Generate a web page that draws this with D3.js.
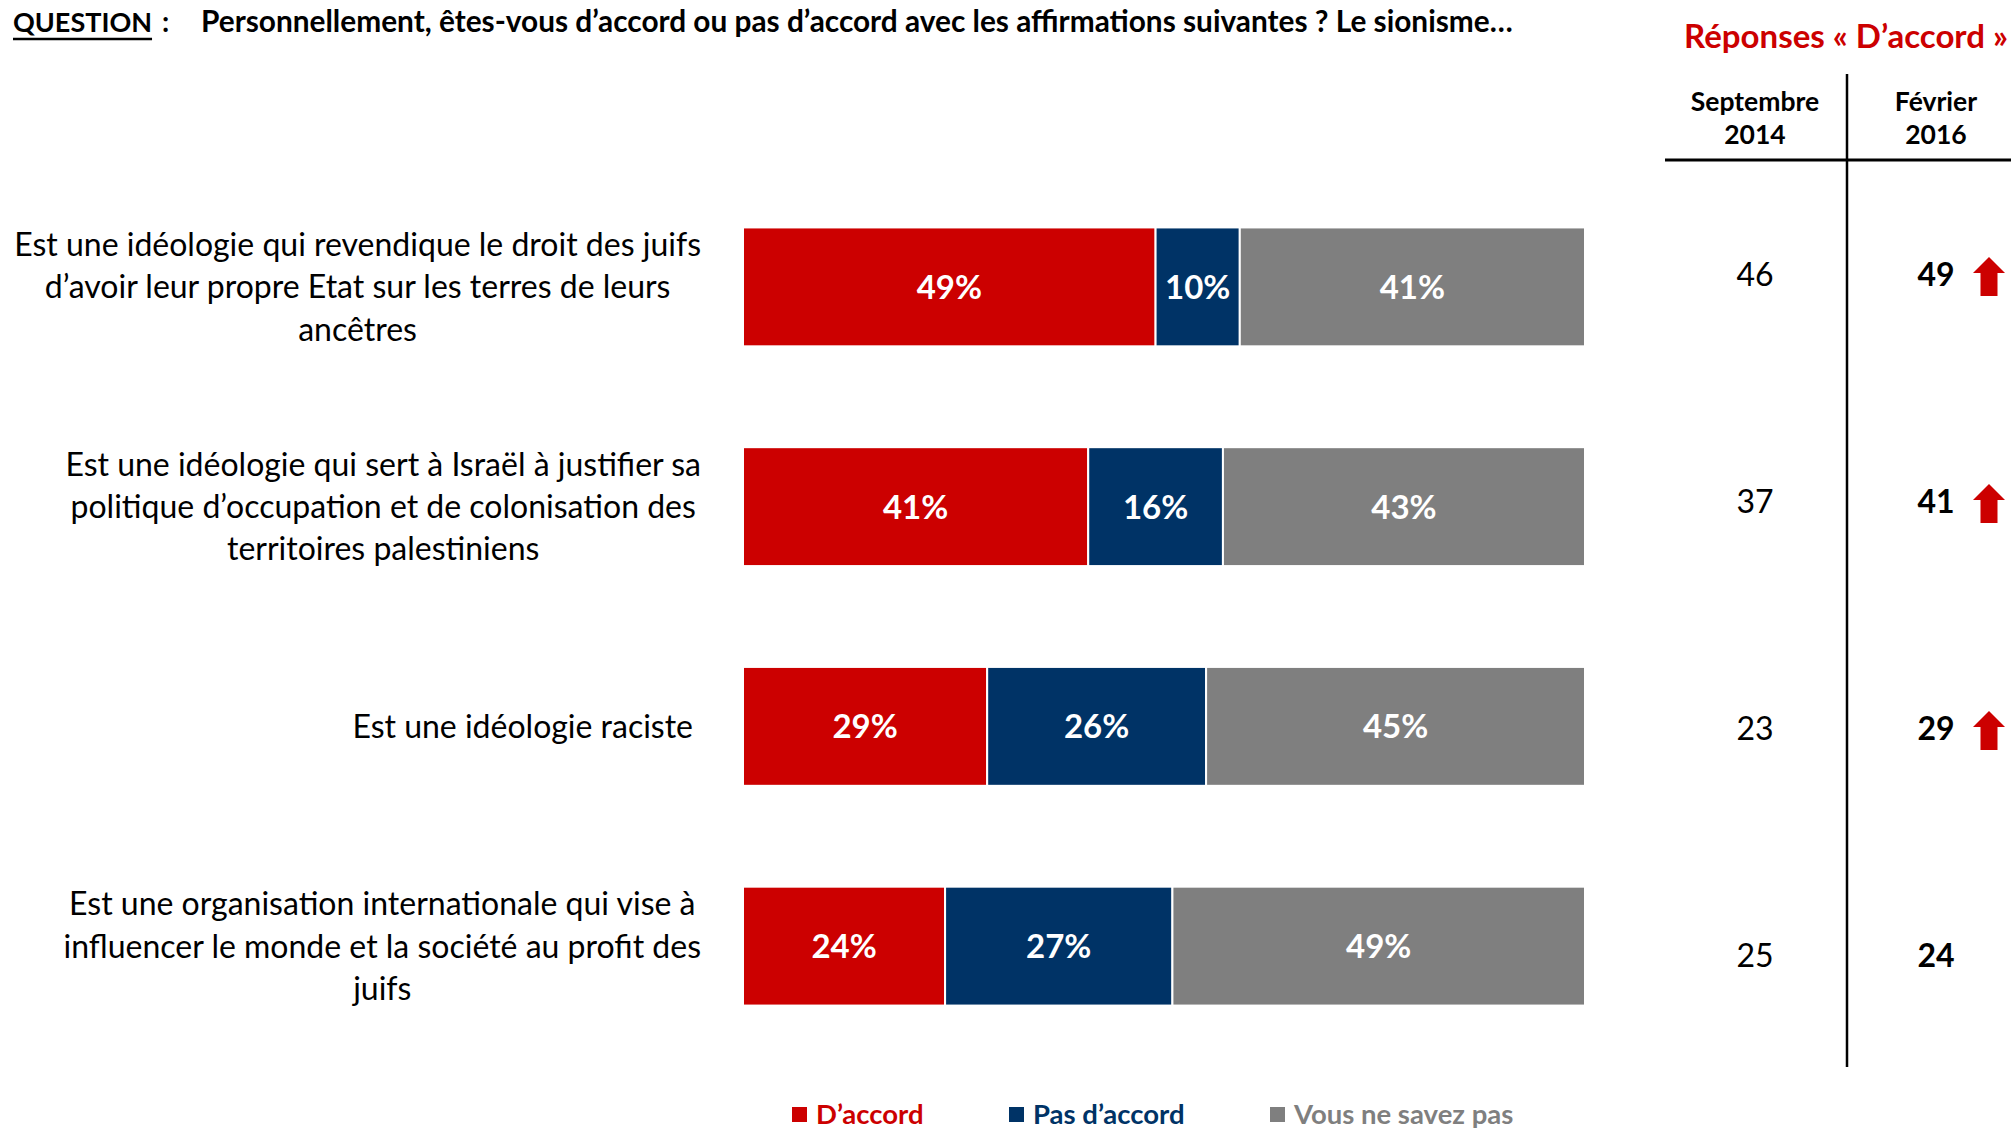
<!DOCTYPE html>
<html lang="fr">
<head>
<meta charset="utf-8">
<script src="https://cdn.jsdelivr.net/npm/d3@7"></script>
<style>
  html, body { margin: 0; padding: 0; background: #fff; }
  svg { display: block; }
  text { font-family: Lato, "Open Sans", "Noto Sans", sans-serif; }
</style>
</head>
<body>
<svg id="chart" width="2011" height="1129"></svg>
<script>
// Survey statements (line breaks as laid out in the chart)
const statements = [
  "Est une idéologie qui revendique le droit des juifs\nd’avoir leur propre Etat sur les terres de leurs\nancêtres",
  "Est une idéologie qui sert à Israël à justifier sa\npolitique d’occupation et de colonisation des\nterritoires palestiniens",
  "Est une idéologie raciste",
  "Est une organisation internationale qui vise à\ninfluencer le monde et la société au profit des\njuifs"
];

// Answer shares, February 2016 (%)
const agree    = [49, 41, 29, 24];
const disagree = [10, 16, 26, 27];
const dontKnow = [41, 43, 45, 49];

// "D'accord" answers across waves
const waves = ["Septembre\n2014", "Février\n2016"];
const agreeSep2014 = [46, 37, 23, 25];
const agreeFeb2016 = [49, 41, 29, 24];
// Significant rise since the previous wave
const risen = [true, true, true, false];

const seriesNames = ["D’accord", "Pas d’accord", "Vous ne savez pas"];
const seriesColors = ["#CC0000", "#003366", "#7F7F7F"];

const svg = d3.select("#chart");

// ---------- Header ----------
const title = svg.append("g");
const q = title.append("text")
  .attr("x", 13).attr("y", 32)
  .attr("font-weight", 700).attr("font-size", 27).attr("fill", "#000")
  .text("QUESTION");
const qBox = q.node().getBBox();
title.append("line")
  .attr("x1", qBox.x).attr("x2", qBox.x + qBox.width)
  .attr("y1", 39).attr("y2", 39)
  .attr("stroke", "#000").attr("stroke-width", 2.4);
title.append("text")
  .attr("x", 162).attr("y", 32)
  .attr("font-weight", 700).attr("font-size", 28)
  .text(":");
title.append("text")
  .attr("x", 201).attr("y", 32)
  .attr("font-weight", 700).attr("font-size", 29.8)
  .text("Personnellement, êtes-vous d’accord ou pas d’accord avec les affirmations suivantes ? Le sionisme…");

// ---------- Stacked bars ----------
const rows = statements.map((s, i) => ({
  label: s, agree: agree[i], disagree: disagree[i], dontKnow: dontKnow[i]
}));
const keys = ["agree", "disagree", "dontKnow"];

const x = d3.scaleLinear().domain([0, 100]).range([743, 1585]);
const y = d3.scaleBand()
  .domain(d3.range(rows.length))
  .range([177, 1056])
  .paddingInner(0.459)
  .paddingOuter(0.2295);

const stacked = d3.stack().keys(keys)(rows);
const color = d3.scaleOrdinal().domain(keys).range(seriesColors);

const layers = svg.append("g").selectAll("g")
  .data(stacked).join("g")
  .attr("fill", d => color(d.key));

layers.selectAll("rect")
  .data(d => d.map((v, i) => ({ v, i })))
  .join("rect")
  .attr("x", d => x(d.v[0]))
  .attr("y", d => y(d.i))
  .attr("width", d => x(d.v[1]) - x(d.v[0]))
  .attr("height", y.bandwidth())
  .attr("stroke", "#fff")
  .attr("stroke-width", 2);

layers.selectAll("text")
  .data(d => d.map((v, i) => ({ v, i })))
  .join("text")
  .attr("x", d => (x(d.v[0]) + x(d.v[1])) / 2)
  .attr("y", d => y(d.i) + y.bandwidth() / 2)
  .attr("dy", "0.36em")
  .attr("text-anchor", "middle")
  .attr("font-weight", 700)
  .attr("font-size", 33)
  .attr("fill", "#fff")
  .text(d => `${d.v[1] - d.v[0]}%`);

// ---------- Statement labels (block right-aligned, lines centred) ----------
const labelRight = 701;
const lineH = 42.3;
const labels = svg.append("g");
rows.forEach((r, i) => {
  const lines = r.label.split("\n");
  const g = labels.append("g");
  const cy = y(i) + y.bandwidth() / 2;
  const ts = lines.map((ln, k) => g.append("text")
    .attr("y", cy + (k - (lines.length - 1) / 2) * lineH)
    .attr("dy", "0.36em")
    .attr("text-anchor", "middle")
    .attr("font-size", 32)
    .attr("fill", "#000")
    .text(ln));
  const maxW = d3.max(ts, t => t.node().getComputedTextLength());
  const right = lines.length === 1 ? labelRight - 8 : labelRight;
  ts.forEach(t => t.attr("x", right - maxW / 2));
});

// ---------- Trend table ----------
svg.append("text")
  .attr("x", 2008).attr("y", 36).attr("dy", "0.36em")
  .attr("text-anchor", "end")
  .attr("font-weight", 700).attr("font-size", 33)
  .attr("fill", "#CC0000")
  .text("Réponses « D’accord »");

const col = d3.scalePoint().domain(waves).range([1755, 1936]);
const rowY = d3.scalePoint().domain(d3.range(rows.length)).range([274.5, 955.5]);

waves.forEach(w => {
  w.split("\n").forEach((ln, k) => {
    svg.append("text")
      .attr("x", col(w)).attr("y", 101 + k * 33).attr("dy", "0.36em")
      .attr("text-anchor", "middle")
      .attr("font-weight", 700).attr("font-size", 26.5)
      .text(ln);
  });
});

svg.append("line")
  .attr("x1", 1665).attr("x2", 2011).attr("y1", 160).attr("y2", 160)
  .attr("stroke", "#000").attr("stroke-width", 3);
svg.append("line")
  .attr("x1", 1847).attr("x2", 1847).attr("y1", 74).attr("y2", 1067)
  .attr("stroke", "#000").attr("stroke-width", 2.5);

const table = svg.append("g");
table.selectAll("text.sep")
  .data(agreeSep2014).join("text")
  .attr("class", "sep")
  .attr("x", col(waves[0])).attr("y", (d, i) => rowY(i)).attr("dy", "0.36em")
  .attr("text-anchor", "middle").attr("font-size", 32)
  .text(d => d);
table.selectAll("text.feb")
  .data(agreeFeb2016).join("text")
  .attr("class", "feb")
  .attr("x", col(waves[1])).attr("y", (d, i) => rowY(i)).attr("dy", "0.36em")
  .attr("text-anchor", "middle").attr("font-size", 32).attr("font-weight", 700)
  .text(d => d);

// Upward arrow next to significant rises
const arrowX = col(waves[1]) + 53;
const arrowPath = (cx, cy) => {
  const hw = 16, sw = 8.5;
  const top = cy - 17.5, base = cy - 1.5, bottom = cy + 21.5;
  return `M${cx},${top}L${cx + hw},${base}L${cx + sw},${base}L${cx + sw},${bottom}` +
         `L${cx - sw},${bottom}L${cx - sw},${base}L${cx - hw},${base}Z`;
};
table.selectAll("path.up")
  .data(risen.map((r, i) => ({ r, i })).filter(d => d.r)).join("path")
  .attr("class", "up")
  .attr("d", d => arrowPath(arrowX, rowY(d.i)))
  .attr("fill", "#CC0000");

// ---------- Legend ----------
const legendX = [792, 1009, 1270];
const legend = svg.append("g");
seriesNames.forEach((name, i) => {
  legend.append("rect")
    .attr("x", legendX[i]).attr("y", 1107)
    .attr("width", 15).attr("height", 15)
    .attr("fill", seriesColors[i]);
  legend.append("text")
    .attr("x", legendX[i] + 24).attr("y", 1114.5).attr("dy", "0.36em")
    .attr("font-weight", 700).attr("font-size", 27.5)
    .attr("fill", seriesColors[i])
    .text(name);
});
</script>
</body>
</html>
